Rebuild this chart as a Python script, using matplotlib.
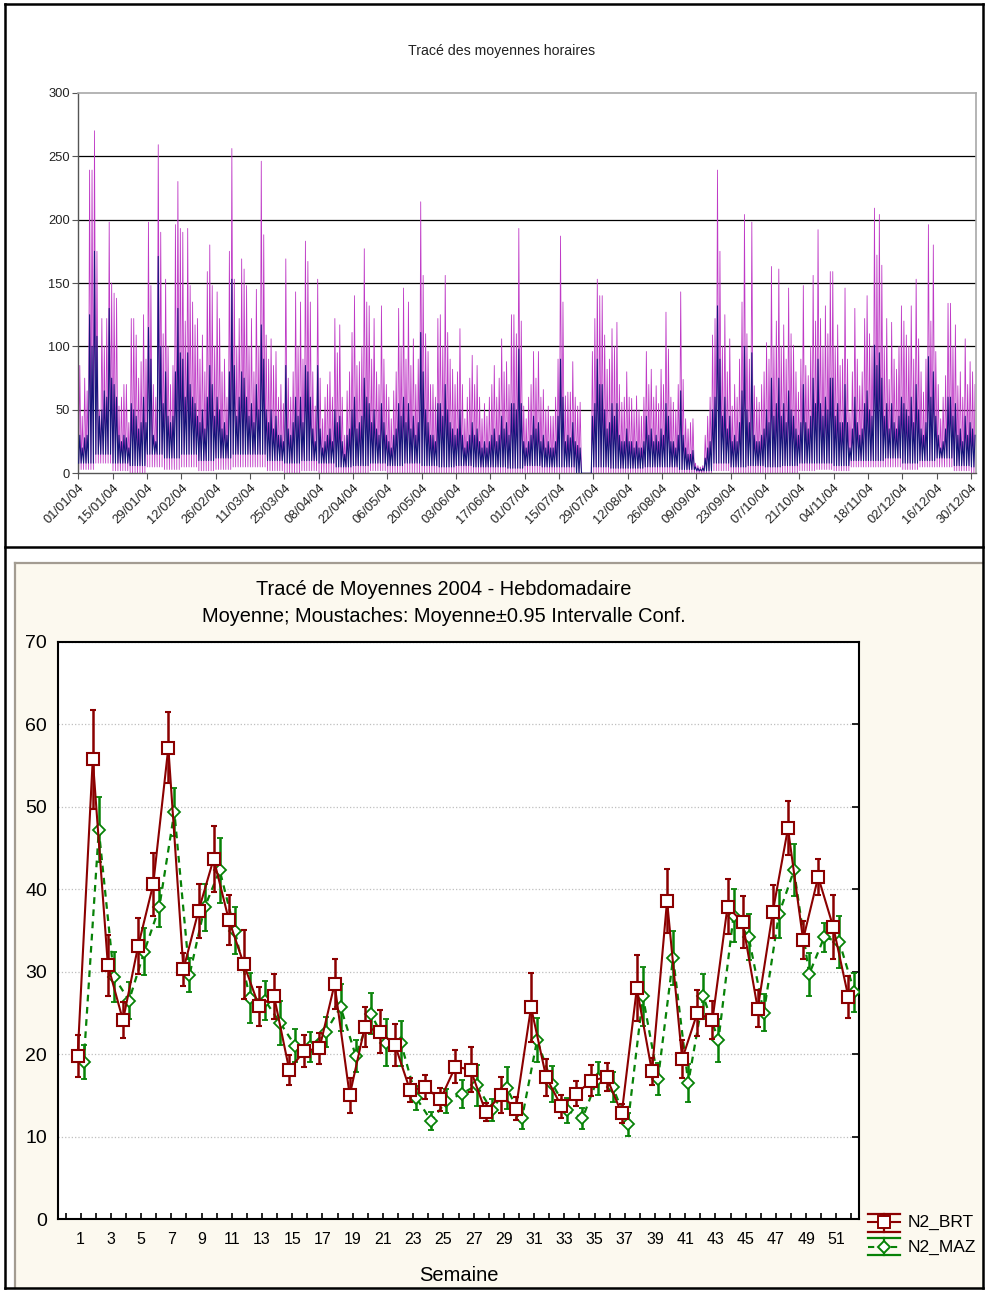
import numpy as np
import matplotlib
matplotlib.use('Agg')
import matplotlib.pyplot as plt
from matplotlib.lines import Line2D
from matplotlib.patches import Rectangle

plt.rcParams['font.family'] = ['Liberation Sans', 'DejaVu Sans']

# ---------------- top panel data (hourly means, read as daily max / min) ----------------
date_labels = ['01/01/04', '15/01/04', '29/01/04', '12/02/04', '26/02/04', '11/03/04', '25/03/04',
               '08/04/04', '22/04/04', '06/05/04', '20/05/04', '03/06/04', '17/06/04', '01/07/04',
               '15/07/04', '29/07/04', '12/08/04', '26/08/04', '09/09/04', '23/09/04', '07/10/04',
               '21/10/04', '04/11/04', '18/11/04', '02/12/04', '16/12/04', '30/12/04']

brt_daily_max = [
    85, 45, 75, 65, 239, 239, 270, 175, 50, 122, 100, 122, 198, 150,
    142, 138, 53, 60, 70, 70, 40, 122, 122, 109, 75, 88, 125, 90,
    198, 148, 70, 60, 259, 190, 110, 153, 100, 70, 85, 196, 230, 193,
    190, 120, 193, 148, 135, 117, 122, 90, 109, 80, 159, 180, 148, 100,
    143, 122, 80, 90, 60, 175, 256, 153, 100, 122, 169, 161, 148, 100,
    122, 80, 145, 100, 246, 188, 109, 90, 106, 85, 96, 60, 70, 55,
    169, 75, 60, 80, 143, 100, 135, 90, 183, 167, 135, 80, 53, 153,
    75, 43, 60, 70, 80, 60, 122, 95, 117, 60, 30, 65, 80, 111,
    140, 85, 88, 100, 177, 135, 132, 90, 122, 80, 70, 132, 90, 70,
    60, 43, 65, 80, 130, 100, 146, 90, 135, 85, 106, 70, 90, 214,
    156, 110, 96, 70, 70, 60, 122, 125, 100, 156, 111, 90, 82, 70,
    80, 114, 70, 43, 60, 75, 93, 70, 85, 60, 43, 55, 45, 60,
    70, 85, 60, 75, 106, 80, 88, 70, 125, 125, 110, 193, 120, 53,
    43, 60, 70, 96, 75, 96, 60, 66, 50, 53, 45, 45, 60, 90,
    187, 135, 61, 64, 64, 88, 60, 53, 56, 0, 0, 0, 0, 96,
    122, 153, 140, 140, 109, 82, 90, 114, 100, 119, 70, 56, 60, 80,
    60, 59, 50, 61, 50, 45, 60, 96, 70, 82, 60, 69, 55, 82,
    70, 127, 98, 60, 56, 50, 70, 143, 74, 43, 35, 40, 43, 8,
    6, 5, 6, 30, 45, 60, 109, 122, 239, 175, 100, 125, 80, 106,
    53, 70, 60, 90, 135, 204, 110, 90, 198, 69, 60, 56, 70, 80,
    103, 90, 163, 100, 120, 161, 100, 117, 90, 146, 110, 101, 80, 64,
    90, 148, 85, 77, 100, 156, 120, 192, 122, 100, 132, 110, 159, 159,
    100, 117, 85, 90, 146, 90, 48, 80, 130, 90, 69, 80, 122, 140,
    110, 100, 209, 172, 204, 164, 100, 122, 74, 119, 90, 82, 100, 132,
    120, 109, 100, 132, 90, 153, 106, 80, 64, 90, 196, 120, 180, 96,
    70, 43, 60, 77, 134, 134, 100, 117, 69, 80, 60, 106, 70, 88,
    80, 70]

maz_daily_max = [
    30, 20, 28, 30, 125, 100, 175, 108, 45, 50, 65, 60, 130, 75,
    70, 60, 30, 25, 30, 28, 20, 55, 50, 45, 35, 40, 60, 40,
    115, 90, 30, 25, 171, 100, 55, 80, 45, 40, 45, 80, 130, 95,
    90, 60, 95, 70, 60, 55, 45, 40, 50, 35, 60, 85, 70, 45,
    60, 50, 35, 40, 30, 80, 153, 85, 45, 60, 80, 75, 60, 45,
    55, 40, 70, 50, 117, 90, 50, 40, 50, 35, 45, 30, 30, 25,
    85, 35, 30, 40, 60, 45, 60, 40, 85, 80, 60, 35, 25, 85,
    35, 20, 25, 30, 35, 25, 50, 40, 45, 25, 15, 30, 35, 50,
    60, 35, 40, 45, 75, 60, 55, 40, 50, 35, 30, 55, 40, 30,
    25, 20, 30, 35, 55, 45, 60, 40, 55, 35, 45, 30, 40, 111,
    80, 50, 40, 30, 30, 25, 55, 55, 45, 70, 50, 40, 35, 30,
    35, 50, 30, 20, 25, 30, 40, 30, 35, 25, 20, 25, 20, 25,
    30, 35, 25, 30, 45, 35, 40, 30, 55, 55, 50, 98, 55, 25,
    20, 25, 30, 45, 35, 40, 25, 30, 20, 25, 20, 20, 25, 45,
    90, 60, 25, 30, 28, 40, 25, 22, 20, 0, 0, 0, 0, 45,
    55, 90, 70, 70, 50, 35, 40, 55, 45, 55, 30, 25, 25, 35,
    25, 25, 20, 25, 20, 20, 25, 45, 30, 35, 25, 30, 25, 35,
    30, 55, 45, 25, 25, 20, 30, 65, 30, 20, 15, 15, 18, 5,
    4, 3, 4, 12, 20, 25, 50, 60, 132, 90, 45, 60, 35, 45,
    25, 30, 25, 40, 65, 100, 50, 40, 95, 30, 25, 25, 30, 35,
    50, 40, 75, 45, 55, 75, 45, 55, 40, 65, 50, 45, 35, 30,
    40, 70, 40, 35, 45, 75, 55, 90, 55, 45, 60, 50, 75, 75,
    45, 55, 40, 40, 70, 40, 20, 35, 60, 40, 30, 35, 55, 65,
    50, 45, 101, 85, 95, 75, 45, 55, 35, 55, 40, 35, 45, 60,
    55, 50, 45, 60, 40, 70, 50, 35, 30, 40, 92, 60, 80, 45,
    30, 20, 25, 35, 60, 60, 45, 55, 30, 35, 25, 45, 30, 40,
    35, 30]

brt_weekly_min = [3, 8, 2, 0, 5, 3, 5, 2, 3, 5, 5, 2, 0, 2, 0, 0, 0, 2, 0, 0, 0, 0, 0, 0, 0, 0, 0,
                  0, 0, 0, 0, 0, 0, 0, 0, 0, 0, 2, 0, 0, 0, 0, 2, 3, 2, 5, 5, 5, 3, 5, 5, 2, 0]
maz_weekly_min = [8, 15, 8, 6, 15, 12, 15, 10, 12, 15, 15, 10, 8, 10, 8, 5, 6, 8, 6, 8, 6, 5, 6, 5, 5, 4, 6,
                  5, 5, 0, 5, 4, 4, 5, 5, 3, 2, 8, 5, 6, 5, 6, 8, 8, 6, 10, 10, 12, 8, 10, 12, 6, 5]

# ---------------- bottom panel data (weekly means and 0.95 CI half-widths) ----------------
weeks = list(range(1, 53))
brt_mean = [19.8, 55.8, 30.8, 24.1, 33.1, 40.6, 57.2, 30.3, 37.4, 43.7, 36.3, 30.9, 25.8, 27.0,
            18.1, 20.4, 20.7, 28.5, 15.0, 23.3, 22.7, 21.1, 15.6, 16.0, 14.5, 18.5, 18.1, 13.0,
            15.0, 13.4, 25.7, 17.2, 13.7, 15.2, 16.8, 17.2, 12.8, 28.0, 17.9, 38.6, 19.4, 25.0,
            24.1, 37.9, 36.0, 25.5, 37.3, 47.4, 33.9, 41.5, 35.4, 26.9]
brt_ci = [2.55, 6.0, 3.7, 2.2, 3.4, 3.8, 4.3, 2.0, 3.3, 4.0, 3.0, 4.2, 2.4, 2.7,
          1.8, 1.9, 1.9, 3.0, 2.1, 2.4, 2.6, 2.5, 1.45, 1.5, 1.35, 2.0, 2.75, 1.1,
          2.2, 1.4, 4.2, 2.25, 1.4, 1.55, 1.9, 1.7, 1.15, 4.0, 1.65, 3.9, 2.35, 2.8,
          2.3, 3.3, 3.15, 2.25, 3.2, 3.3, 2.3, 2.2, 3.85, 2.55]
maz_mean = [19.0, 47.2, 29.4, 26.5, 32.4, 37.8, 49.4, 29.6, 37.8, 42.3, 35.0, 26.8, 26.5, 23.8,
            21.0, 20.9, 22.7, 25.7, 19.8, 24.9, 21.4, 21.3, 14.7, 11.9, 14.3, 15.2, 16.2, 13.2,
            15.9, 12.2, 21.7, 16.4, 13.2, 12.2, 17.0, 16.0, 11.5, 27.0, 17.0, 31.7, 16.5, 27.0,
            21.7, 36.8, 34.2, 25.0, 37.0, 42.3, 29.7, 34.2, 33.6, 27.5]
maz_ci = [2.05, 3.95, 3.05, 2.25, 2.85, 2.4, 2.9, 2.05, 2.9, 3.95, 2.9, 3.05, 2.35, 2.7,
          2.0, 1.8, 1.8, 2.85, 1.95, 2.5, 2.85, 2.7, 1.45, 1.1, 1.45, 1.7, 2.45, 1.3,
          2.5, 1.25, 2.65, 2.2, 1.5, 1.3, 2.0, 1.8, 1.4, 3.6, 1.9, 3.3, 2.35, 2.75,
          2.6, 3.2, 2.75, 2.25, 2.95, 3.15, 2.6, 1.75, 3.2, 2.35]
series_names = ['N2_BRT', 'N2_MAZ']

# ---------------- figure ----------------
W, H = 986, 1290
fig = plt.figure(figsize=(W / 100, H / 100), dpi=100)
fig.patch.set_facecolor('white')


def fx(px):
    return px / W


def fy(py):
    return 1 - py / H


# beige panel for the bottom chart
fig.add_artist(Rectangle((fx(15), fy(1288)), fx(983) - fx(15), fy(563) - fy(1288),
                         transform=fig.transFigure, facecolor='#FCF9EF', edgecolor='none', zorder=-5))
fig.add_artist(Line2D([fx(15), fx(983)], [fy(563), fy(563)], color='#A39C92', lw=1.6))
fig.add_artist(Line2D([fx(15), fx(15)], [fy(563), fy(1288)], color='#A39C92', lw=1.6))

# outer frame and separator
for xs, ys in [([5, 983], [4, 4]), ([5, 983], [1288, 1288]), ([5, 5], [4, 1288]),
               ([983, 983], [4, 1288]), ([5, 983], [547, 547])]:
    fig.add_artist(Line2D([fx(x) for x in xs], [fy(y) for y in ys], color='black', lw=1.8))

# ---------------- top chart ----------------
ax1 = fig.add_axes([fx(78.3), fy(473.3), fx(976) - fx(78.3), fy(92.7) - fy(473.3)])
ndays = len(brt_daily_max)
days = np.arange(ndays)
brt_min_daily = np.repeat(brt_weekly_min, 7)[:ndays]
maz_min_daily = np.repeat(maz_weekly_min, 7)[:ndays]
t = (days[:, None] + np.array([0.15, 0.6])).ravel()
brt_series = np.column_stack([brt_min_daily, brt_daily_max]).ravel()
maz_series = np.column_stack([maz_min_daily, maz_daily_max]).ravel()

for g in [50, 100, 150, 200, 250]:
    ax1.axhline(g, color='black', lw=0.9, zorder=0)
ax1.plot(t, brt_series, color='#BF3AC6', lw=0.6, zorder=2)
ax1.plot(t, maz_series, color='#15157A', lw=0.75, zorder=3)
ax1.set_xlim(0, ndays)
ax1.set_ylim(0, 300)
ax1.set_yticks(range(0, 301, 50))
ax1.set_xticks(range(0, 14 * len(date_labels), 14))
ax1.set_xticklabels(date_labels, rotation=45, ha='right', va='top', rotation_mode='anchor')
ax1.tick_params(axis='both', direction='out', length=4, width=0.8, color='#555555',
                labelsize=9.3, labelcolor='#222222', pad=2)
for s in ['top', 'right']:
    ax1.spines[s].set_color('#A8A8A8')
    ax1.spines[s].set_linewidth(1.2)
for s in ['left', 'bottom']:
    ax1.spines[s].set_color('#555555')
    ax1.spines[s].set_linewidth(1.0)
fig.text(fx(502), fy(51), 'Tracé des moyennes horaires', ha='center', va='center',
         fontsize=10.2, color='#222222')

# ---------------- bottom chart ----------------
ax2 = fig.add_axes([fx(58), fy(1219), fx(859) - fx(58), fy(642) - fy(1219)])
ax2.set_facecolor('white')
wk = np.array(weeks)
red = '#8B0000'
green = '#078207'
ax2.errorbar(wk - 0.2, brt_mean, yerr=brt_ci, color=red, lw=1.5, elinewidth=1.8, capsize=2,
             capthick=1.2, marker='s', ms=8, mfc='white', mec=red, mew=1.5, zorder=4)
ax2.errorbar(wk + 0.2, maz_mean, yerr=maz_ci, color=green, lw=1.6, ls=(0, (3, 2.5)), elinewidth=1.8,
             capsize=2, capthick=1.2, marker='D', ms=6.5, mfc='white', mec=green, mew=1.3, zorder=3)
ax2.set_xlim(-0.5, 52.5)
ax2.set_ylim(0, 70)
ax2.set_yticks(range(0, 71, 10))
ax2.yaxis.grid(True, color='#BFBFBF', linestyle=':', lw=0.9)
ax2.set_axisbelow(True)
ax2.set_xticks(range(0, 53))
ax2.set_xticklabels([str(w) if w % 2 == 1 else '' for w in range(0, 53)])
ax2.tick_params(axis='x', direction='in', length=4, width=1.2, labelsize=11.5, pad=9)
ax2.tick_params(axis='y', left=False, right=True, direction='in', length=5, width=1.2,
                labelsize=14, pad=8)
for s in ax2.spines.values():
    s.set_linewidth(1.5)
    s.set_color('black')
ax2.set_xlabel('Semaine', fontsize=14.5, labelpad=14)

fig.text(fx(444), fy(589), 'Tracé de Moyennes 2004 - Hebdomadaire', ha='center', va='center', fontsize=14.4)
fig.text(fx(444), fy(617), 'Moyenne; Moustaches: Moyenne±0.95 Intervalle Conf.', ha='center',
         va='center', fontsize=14.4)

# legend glyphs
def legend_glyph(ytop, ymid, ybot, color, marker, ls, ms, name):
    x0, x1, xc = 868, 900, 884
    fig.add_artist(Line2D([fx(x0), fx(x1)], [fy(ytop), fy(ytop)], color=color, lw=1.6))
    fig.add_artist(Line2D([fx(x0), fx(x1)], [fy(ybot), fy(ybot)], color=color, lw=1.6))
    fig.add_artist(Line2D([fx(xc), fx(xc)], [fy(ytop), fy(ybot)], color=color, lw=1.6))
    fig.add_artist(Line2D([fx(x0), fx(x1)], [fy(ymid), fy(ymid)], color=color, lw=1.5, ls=ls))
    fig.add_artist(Line2D([fx(xc)], [fy(ymid)], color=color, marker=marker, ms=ms, mfc='white',
                          mec=color, mew=1.4, ls='none'))
    fig.text(fx(908), fy(ymid), name, ha='left', va='center', fontsize=12.5)


legend_glyph(1214, 1222, 1232, red, 's', '-', 8, series_names[0])
legend_glyph(1238, 1247, 1255, green, 'D', (0, (3, 2.5)), 6.5, series_names[1])

fig.savefig('out.png', dpi=100)
